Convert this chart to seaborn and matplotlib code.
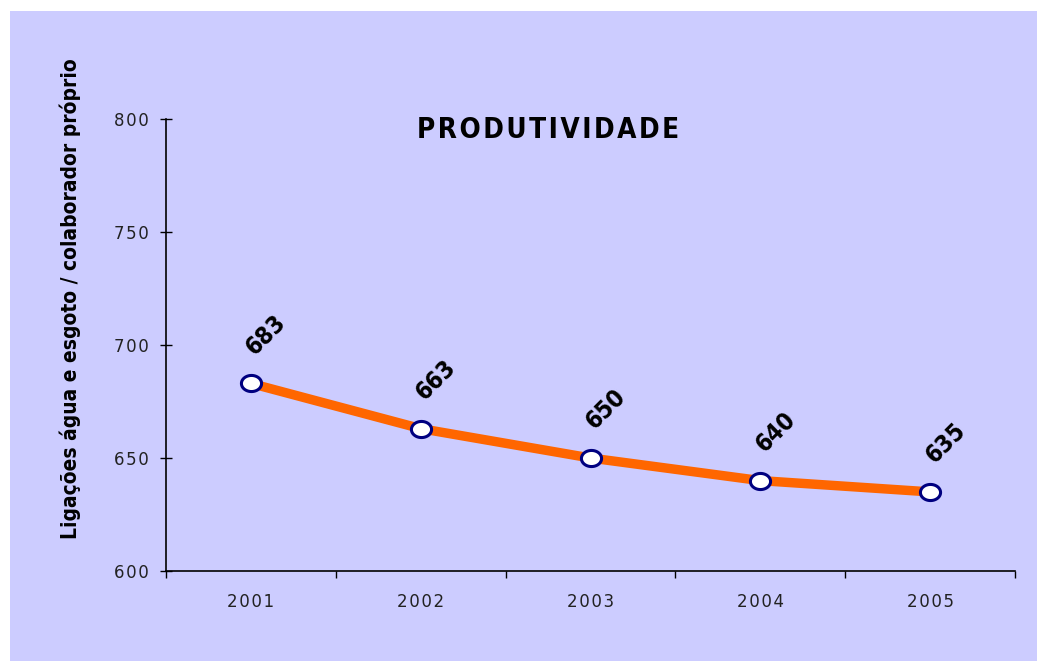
import matplotlib
matplotlib.use("Agg")
import matplotlib.pyplot as plt
import seaborn as sns
import pandas as pd
import numpy as np
from matplotlib.path import Path
from matplotlib.font_manager import fontManager

years = ["2001", "2002", "2003", "2004", "2005"]
values = [683, 663, 650, 640, 635]
y_ticks = [600, 650, 700, 750, 800]
title = "PRODUTIVIDADE"
ylabel = "Ligações água e esgoto / colaborador próprio"

sns.set_theme(style="ticks")
plt.rcParams["font.family"] = ["DejaVu Sans"]

has_cond = any(f.name == "DejaVu Sans" and f.stretch == "condensed" for f in fontManager.ttflist)
STRETCH = "condensed" if has_cond else "normal"

BG = "#CCCCFF"
fig = plt.figure(figsize=(10.37, 6.61), dpi=100)
fig.patch.set_facecolor("white")
fig.patches.append(plt.Rectangle((10/1037, 0), 1, 1 - 11/661, transform=fig.transFigure,
                                 facecolor=BG, edgecolor="none", zorder=-10))
ax = fig.add_axes([166/1037, 1 - 571/661, (1015-166)/1037, (571-119)/661])
ax.set_facecolor(BG)

df = pd.DataFrame({"ano": np.arange(len(years)), "valor": values})

t = np.linspace(0, 2*np.pi, 60)
ellipse = Path(np.column_stack([1.25*np.cos(t), np.sin(t)]), closed=True)

sns.lineplot(data=df, x="ano", y="valor", ax=ax, color="#FF6600", linewidth=6.8,
             marker=ellipse, markersize=14.5, markerfacecolor="white",
             markeredgecolor="#000080", markeredgewidth=2.2, zorder=3)

for i, v in enumerate(values):
    ax.annotate(str(v), (i, v), xytext=(11, 35), textcoords="offset points",
                ha="center", va="center", rotation=45, fontsize=17.5,
                fontweight="bold", color="black", fontstretch=STRETCH)

ax.set_xlim(-0.5, len(years) - 0.5)
ax.set_ylim(600, 800)
ax.set_yticks(y_ticks)
ax.set_yticklabels(["\u200a".join(str(v)) for v in y_ticks], fontsize=12, color="#222222")
ax.set_xticks(np.arange(len(years)))
ax.set_xticklabels(["\u200a".join(y) for y in years], fontsize=12, color="#222222")
ax.set_xticks(np.arange(len(years) + 1) - 0.5, minor=True)
ax.tick_params(axis="x", which="major", length=0, pad=16)
ax.tick_params(axis="x", which="minor", length=5, width=1, color="black", direction="out")
ax.tick_params(axis="y", which="major", length=9, width=1, color="black", direction="inout", pad=8)

for s in ["top", "right"]:
    ax.spines[s].set_visible(False)
for s in ["left", "bottom"]:
    ax.spines[s].set_color("black")
    ax.spines[s].set_linewidth(1.2)

ax.set_xlabel("")
ax.set_ylabel(ylabel, fontsize=15 if has_cond else 13, fontweight="bold", color="black",
              va="center", fontstretch=STRETCH)
ax.yaxis.set_label_coords(-0.113, 0.603)

fig.text(548/1037, 1 - 130/661, "\u200a".join(title), ha="center", va="center",
         fontsize=20, fontweight="bold", color="black", fontstretch=STRETCH)

fig.savefig("out.png", dpi=100, facecolor=fig.get_facecolor())
